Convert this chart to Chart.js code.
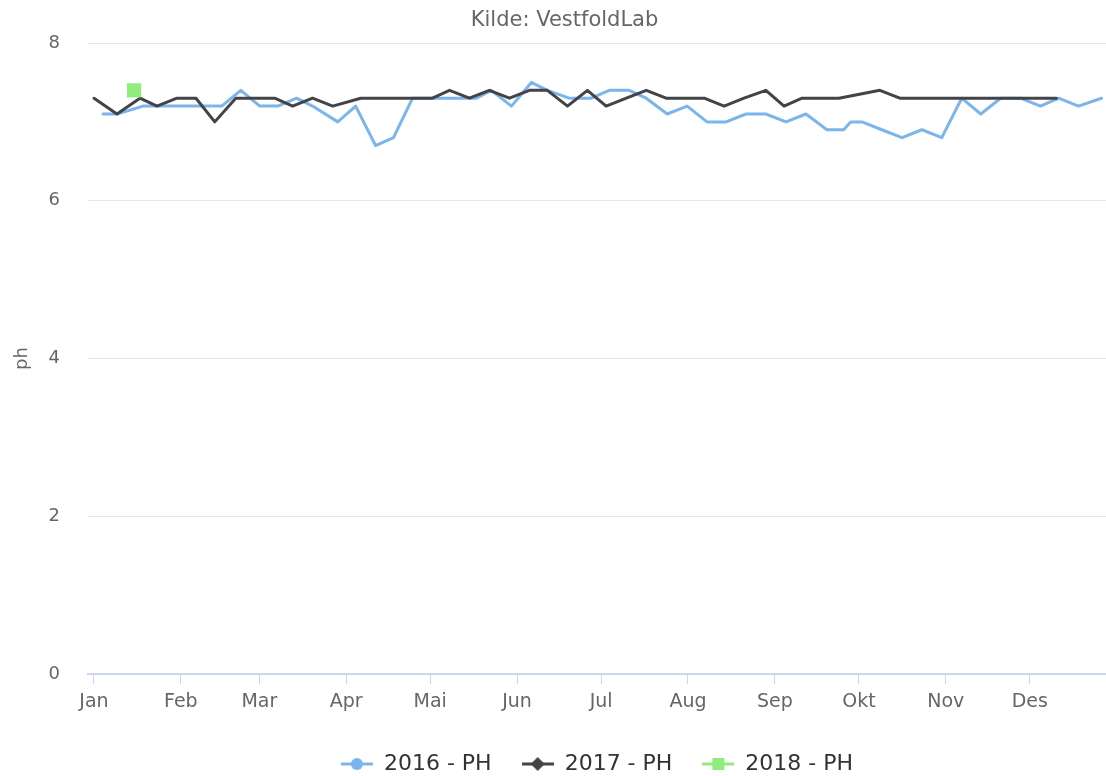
<!DOCTYPE html>
<html>
<head>
<meta charset="utf-8">
<script src="https://cdn.jsdelivr.net/npm/chart.js@4.4.0/dist/chart.umd.min.js"></script>
<style>
  html, body { margin: 0; padding: 0; background: #fff; }
  canvas { display: block; }
</style>
</head>
<body>
<canvas id="ph-chart" width="1106" height="776"></canvas>
<script>
// ─── Data (x = day of year, y = pH) ───
const monthNames  = ['Jan','Feb','Mar','Apr','Mai','Jun','Jul','Aug','Sep','Okt','Nov','Des'];
const monthStarts = [0, 31, 59, 90, 120, 151, 181, 212, 243, 273, 304, 334];

const seriesNames = ['2016 - PH', '2017 - PH', '2018 - PH'];

const days2016 = [3.2, 8.2, 17.5, 24.6, 31.7, 38.6, 45.6, 52.4, 59.2, 65.6, 72.3, 78.0, 87.0, 93.4, 100.5, 106.9,
                  113.7, 120.8, 127.9, 136.5, 141.8, 149.0, 156.1, 161.8, 169.6, 177.5, 183.9, 191.0, 197.1, 204.6,
                  211.7, 218.8, 225.6, 232.7, 239.8, 247.0, 254.1, 261.6, 267.6, 270.1, 274.1, 281.2, 288.4, 295.5,
                  302.6, 309.7, 316.5, 323.6, 330.7, 337.8, 344.3, 351.4, 359.6];
const ph2016   = [7.1, 7.1, 7.2, 7.2, 7.2, 7.2, 7.2, 7.4, 7.2, 7.2, 7.3, 7.2, 7.0, 7.2, 6.7, 6.8,
                  7.3, 7.3, 7.3, 7.3, 7.4, 7.2, 7.5, 7.4, 7.3, 7.3, 7.4, 7.4, 7.3, 7.1,
                  7.2, 7.0, 7.0, 7.1, 7.1, 7.0, 7.1, 6.9, 6.9, 7.0, 7.0, 6.9, 6.8, 6.9,
                  6.8, 7.3, 7.1, 7.3, 7.3, 7.2, 7.3, 7.2, 7.3];

const days2017 = [0, 8.2, 16.4, 22.5, 29.6, 36.4, 43.1, 50.6, 57.5, 64.5, 70.9, 78.0, 85.2, 95.2, 102.0, 109.0,
                  116.0, 120.8, 126.9, 134.0, 141.1, 148.3, 155.4, 161.8, 169.0, 176.1, 182.8, 190.0, 197.1, 204.2,
                  211.0, 217.8, 224.9, 232.0, 239.8, 246.3, 252.7, 259.3, 265.9, 280.5, 287.6, 295.0, 302.0, 309.0,
                  316.0, 323.0, 330.0, 337.0, 343.5];
const ph2017   = [7.3, 7.1, 7.3, 7.2, 7.3, 7.3, 7.0, 7.3, 7.3, 7.3, 7.2, 7.3, 7.2, 7.3, 7.3, 7.3,
                  7.3, 7.3, 7.4, 7.3, 7.4, 7.3, 7.4, 7.4, 7.2, 7.4, 7.2, 7.3, 7.4, 7.3,
                  7.3, 7.3, 7.2, 7.3, 7.4, 7.2, 7.3, 7.3, 7.3, 7.4, 7.3, 7.3, 7.3, 7.3,
                  7.3, 7.3, 7.3, 7.3, 7.3];

const days2018 = [14.3];
const ph2018   = [7.4];

// ─── Style ───
const COLORS = { blue: '#7cb5ec', dark: '#434348', green: '#90ed7d' };
Chart.defaults.font.family = '"DejaVu Sans", sans-serif';

const toPoints = (xs, ys) => xs.map((x, i) => ({ x, y: ys[i] }));

// legend symbol: short line with the series marker in the middle
function makeSymbol(color, shape) {
  const c = document.createElement('canvas');
  c.width = 32; c.height = 16;
  const g = c.getContext('2d');
  g.strokeStyle = color; g.fillStyle = color; g.lineWidth = 3;
  g.beginPath(); g.moveTo(0, 8); g.lineTo(32, 8); g.stroke();
  g.beginPath();
  if (shape === 'circle') g.arc(16, 8, 6, 0, Math.PI * 2);
  else if (shape === 'diamond') { g.moveTo(16, 1); g.lineTo(23, 8); g.lineTo(16, 15); g.lineTo(9, 8); g.closePath(); }
  else g.rect(10, 2, 12, 12);
  g.fill();
  return c;
}
const symbols = [makeSymbol(COLORS.blue, 'circle'), makeSymbol(COLORS.dark, 'diamond'), makeSymbol(COLORS.green, 'square')];
const seriesColors = [COLORS.blue, COLORS.dark, COLORS.green];

new Chart(document.getElementById('ph-chart'), {
  type: 'line',
  data: {
    datasets: [
      {
        label: seriesNames[0], data: toPoints(days2016, ph2016), order: 2,
        borderColor: COLORS.blue, backgroundColor: COLORS.blue, borderWidth: 3,
        pointRadius: 0, tension: 0, borderJoinStyle: 'round', borderCapStyle: 'round',
      },
      {
        label: seriesNames[1], data: toPoints(days2017, ph2017), order: 1,
        borderColor: COLORS.dark, backgroundColor: COLORS.dark, borderWidth: 3,
        pointRadius: 0, tension: 0, borderJoinStyle: 'round', borderCapStyle: 'round',
      },
      {
        label: seriesNames[2], data: toPoints(days2018, ph2018), order: 0,
        borderColor: COLORS.green, backgroundColor: COLORS.green, borderWidth: 0,
        showLine: false, pointStyle: 'rect', pointRadius: 10,
      },
    ],
  },
  options: {
    responsive: false,
    animation: false,
    events: [],
    layout: { autoPadding: false, padding: { left: 23, right: 0, top: 0, bottom: -9 } },
    plugins: {
      title: {
        display: true, text: 'Kilde: VestfoldLab', color: '#666',
        font: { size: 21, weight: 'normal' }, padding: { top: 8, bottom: 9.8 },
      },
      legend: {
        position: 'bottom', fullSize: false,
        labels: {
          usePointStyle: true, pointStyleWidth: 32, padding: 30,
          color: '#333', font: { size: 22 },
          generateLabels: () => seriesNames.map((name, i) => ({
            text: name, pointStyle: symbols[i], fillStyle: seriesColors[i],
            strokeStyle: seriesColors[i], lineWidth: 0, hidden: false,
            datasetIndex: i, fontColor: '#333',
          })),
        },
      },
      tooltip: { enabled: false },
    },
    scales: {
      x: {
        type: 'linear', min: -2.14, max: 361.2,
        afterBuildTicks: s => { s.ticks = monthStarts.map(v => ({ value: v })); },
        afterFit: s => { s.height = 49; },
        grid: { drawOnChartArea: false, drawTicks: true, tickLength: 10, color: '#ccd6eb' },
        border: { color: '#ccd6eb', width: 2 },
        ticks: {
          autoSkip: false, maxRotation: 0, padding: 7, color: '#666', font: { size: 19 },
          callback: v => monthNames[monthStarts.indexOf(v)] ?? '',
        },
      },
      y: {
        min: 0, max: 8,
        afterFit: s => { s.width = 65; },
        ticks: { stepSize: 2, padding: 28, color: '#666', font: { size: 18 } },
        grid: { color: '#e6e6e6', drawTicks: false },
        border: { display: false },
        title: { display: true, text: 'ph', color: '#666', font: { size: 18 }, padding: { top: -11, bottom: 0 } },
      },
    },
  },
});
</script>
</body>
</html>
